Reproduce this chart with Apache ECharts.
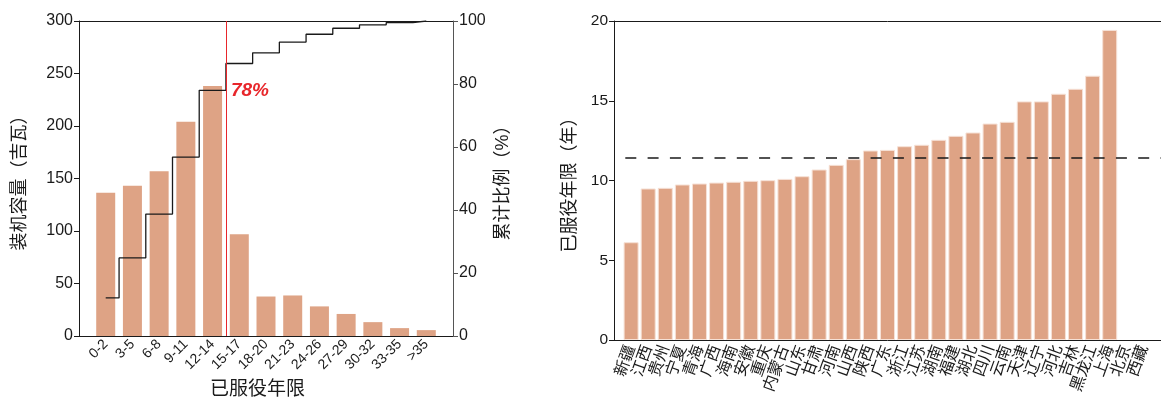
<!DOCTYPE html>
<html>
<head>
<meta charset="utf-8">
<script src="https://cdn.jsdelivr.net/npm/echarts@6/dist/echarts.min.js"></script>
<style>
  html, body { margin: 0; padding: 0; background: #fff; }
  #chart { width: 1161px; height: 404px; }
</style>
</head>
<body>
<div id="chart"></div>
<script>
// Installed capacity by years in service (GW)
const ageGroups = ['0-2', '3-5', '6-8', '9-11', '12-14', '15-17', '18-20', '21-23', '24-26', '27-29', '30-32', '33-35', '>35'];
const capacityGW = [136.4, 143, 157, 204, 238, 97, 37.6, 38.6, 28.2, 21, 13.2, 7.5, 5.6];
// Cumulative share of capacity (%)
const cumulativePct = [12.1, 24.8, 38.7, 56.8, 78, 86.5, 89.9, 93.3, 95.8, 97.7, 98.8, 99.5, 100];
// Index of the age group whose cumulative share is highlighted
const highlightIdx = 4;

// Average years in service by province
const provinces = ['新疆', '江西', '贵州', '宁夏', '青海', '广西', '海南', '安徽', '重庆', '内蒙古', '山东', '甘肃', '河南', '山西', '陕西', '广东', '浙江', '江苏', '湖南', '福建', '湖北', '四川', '云南', '天津', '辽宁', '河北', '吉林', '黑龙江', '上海', '北京', '西藏'];
const serviceYears = [6.13, 9.50, 9.54, 9.75, 9.81, 9.87, 9.92, 9.98, 10.02, 10.10, 10.27, 10.69, 10.98, 11.34, 11.88, 11.92, 12.15, 12.24, 12.55, 12.80, 13.01, 13.57, 13.68, 14.96, 14.96, 15.44, 15.75, 16.57, 19.44, null, null];
const nationalAvgYears = 11.43;

const FONT = "'Liberation Sans', 'Noto Sans CJK SC', sans-serif";
const INK = '#1a1a1a';
const BAR = '#dea385';
const RED = '#e8262b';

const chart = echarts.init(document.getElementById('chart'), null, { renderer: 'canvas' });

function valueY(gridIndex, min, max, interval, extra) {
  return Object.assign({
    type: 'value', gridIndex, min, max, interval,
    axisLine: { show: true, onZero: false, lineStyle: { color: INK, width: 1 } },
    axisTick: { show: true, inside: false, length: 5, lineStyle: { color: INK } },
    axisLabel: { color: INK, fontFamily: FONT, fontSize: 16, margin: 6 },
    splitLine: { show: false },
    nameLocation: 'middle',
    nameRotate: 90,
    nameTextStyle: { color: INK, fontFamily: FONT, fontSize: 18 }
  }, extra || {});
}

function topFrame(gridIndex, min, max) {
  return {
    type: 'value', gridIndex, position: 'top', min, max,
    axisLine: { show: true, onZero: false, lineStyle: { color: INK, width: 1 } },
    axisTick: { show: false }, axisLabel: { show: false }, splitLine: { show: false }
  };
}

const option = {
  animation: false,
  backgroundColor: '#fff',
  textStyle: { fontFamily: FONT },
  grid: [
    { left: 79, right: 708, top: 21, bottom: 64 },
    { left: 614, right: -12, top: 21, bottom: 64 }
  ],
  xAxis: [
    {
      type: 'value', gridIndex: 0, min: -1, max: 13, interval: 1,
      axisLine: { show: true, onZero: false, lineStyle: { color: INK, width: 1 } },
      axisTick: { show: false },
      splitLine: { show: false },
      axisLabel: {
        rotate: 45, color: INK, fontFamily: FONT, fontSize: 14, margin: 6,
        showMinLabel: false, showMaxLabel: false,
        formatter: v => ageGroups[v] || ''
      },
      name: '已服役年限', nameLocation: 'middle', nameGap: 44,
      nameTextStyle: { color: INK, fontFamily: FONT, fontSize: 19, padding: [0, 17, 0, 0] }
    },
    {
      type: 'value', gridIndex: 1, min: -1, max: 31, interval: 1,
      axisLine: { show: true, onZero: false, lineStyle: { color: INK, width: 1 } },
      axisTick: { show: false },
      splitLine: { show: false },
      axisLabel: {
        rotate: 70, color: INK, fontFamily: FONT, fontSize: 16, margin: 6,
        showMinLabel: false, showMaxLabel: false,
        formatter: v => provinces[v] || ''
      }
    },
    topFrame(0, -1, 13),
    topFrame(1, -1, 31)
  ],
  yAxis: [
    valueY(0, 0, 300, 50, { name: '装机容量（吉瓦）', nameGap: 50 }),
    valueY(0, 0, 100, 20, {
      position: 'right', name: '累计比例（%）', nameGap: 41,
      axisLine: { show: true, onZero: false, lineStyle: { color: '#555', width: 1 } },
      axisTick: { show: true, inside: false, length: 5, lineStyle: { color: '#555' } }
    }),
    valueY(1, 0, 20, 5, {
      name: '已服役年限（年）', nameGap: 35,
      axisLabel: { color: INK, fontFamily: FONT, fontSize: 15.5, margin: 6 }
    })
  ],
  series: [
    {
      type: 'bar', xAxisIndex: 0, yAxisIndex: 0,
      barWidth: 19,
      itemStyle: { color: BAR },
      data: capacityGW.map((v, i) => [i, v]),
      markLine: {
        silent: true, symbol: 'none',
        label: { show: false },
        lineStyle: { color: RED, width: 1, type: 'solid' },
        data: [{ xAxis: highlightIdx + 0.5 }]
      }
    },
    {
      type: 'line', xAxisIndex: 0, yAxisIndex: 1,
      step: 'middle', symbol: 'none',
      lineStyle: { color: INK, width: 1.3 },
      data: cumulativePct.map((v, i) => [i, v])
    },
    {
      type: 'scatter', xAxisIndex: 0, yAxisIndex: 1,
      symbolSize: 0, silent: true,
      itemStyle: { opacity: 1 },
      label: {
        show: true, position: 'right', distance: 5, opacity: 1,
        color: RED, fontFamily: FONT, fontSize: 19, fontWeight: 'bold', fontStyle: 'italic',
        formatter: p => Math.round(p.value[1]) + '%'
      },
      data: [[highlightIdx + 0.5, cumulativePct[highlightIdx]]]
    },
    {
      type: 'bar', xAxisIndex: 1, yAxisIndex: 2,
      barWidth: 15,
      itemStyle: { color: BAR, borderColor: '#f6e1d6', borderWidth: 1 },
      data: serviceYears.map((v, i) => [i, v]),
      markLine: {
        silent: true, symbol: 'none',
        label: { show: false },
        lineStyle: { color: INK, width: 1.6, type: [11, 11.3], dashOffset: 11 },
        data: [{ yAxis: nationalAvgYears }]
      }
    }
  ]
};

chart.setOption(option);
</script>
</body>
</html>
